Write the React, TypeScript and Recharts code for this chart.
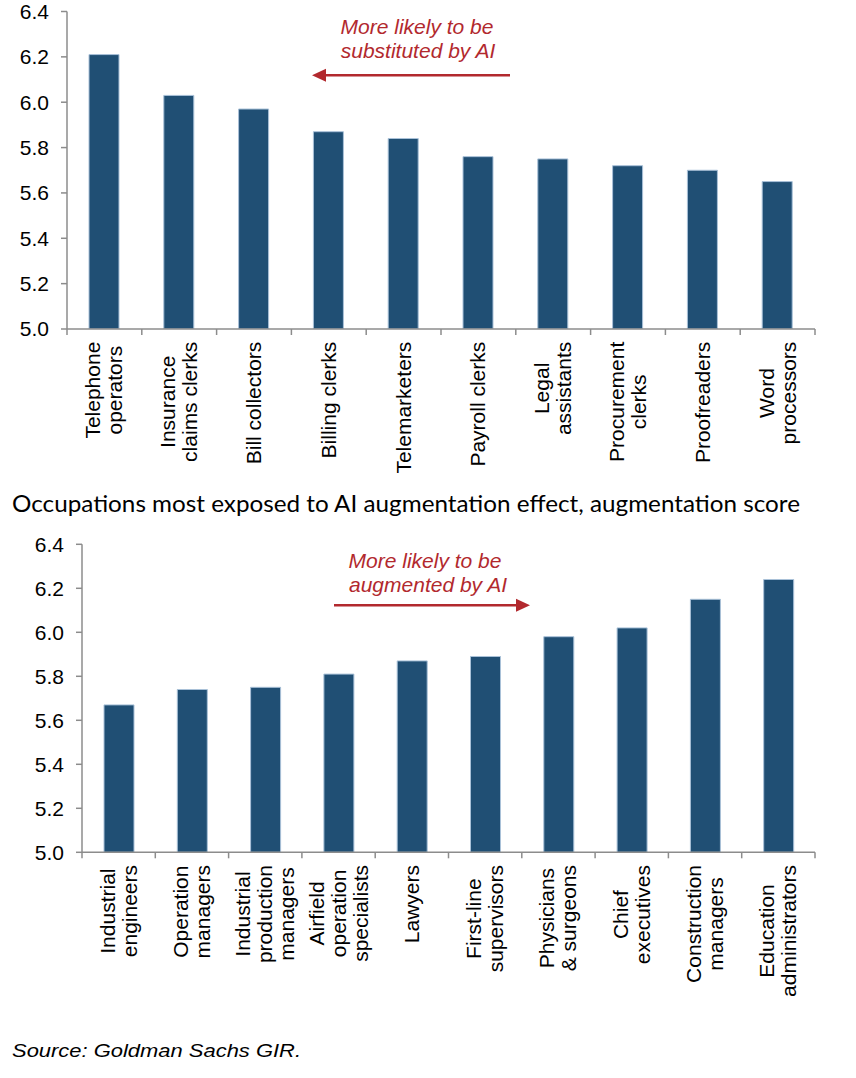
import { Bar, BarChart, XAxis, YAxis } from 'recharts';

// occupation labels, split the way they wrap under the axis
const substitutionLabels = [
  ['Telephone', 'operators'],
  ['Insurance', 'claims clerks'],
  ['Bill collectors'],
  ['Billing clerks'],
  ['Telemarketers'],
  ['Payroll clerks'],
  ['Legal', 'assistants'],
  ['Procurement', 'clerks'],
  ['Proofreaders'],
  ['Word', 'processors'],
];
const substitutionScores = [6.21, 6.03, 5.97, 5.87, 5.84, 5.76, 5.75, 5.72, 5.7, 5.65];

const augmentationLabels = [
  ['Industrial', 'engineers'],
  ['Operation', 'managers'],
  ['Industrial', 'production', 'managers'],
  ['Airfield', 'operation', 'specialists'],
  ['Lawyers'],
  ['First-line', 'supervisors'],
  ['Physicians', '& surgeons'],
  ['Chief', 'executives'],
  ['Construction', 'managers'],
  ['Education', 'administrators'],
];
const augmentationScores = [5.67, 5.74, 5.75, 5.81, 5.87, 5.89, 5.98, 6.02, 6.15, 6.24];

const scoreTicks = [5.0, 5.2, 5.4, 5.6, 5.8, 6.0, 6.2, 6.4];

const BAR = '#204f74';
const BAR_EDGE = '#a9c1d8';
const AXIS = '#8c8c8c';
const RED = '#b2292e';
const SANS = '"Liberation Sans", Arial, sans-serif';
const LABEL_SIZE = 21;
const LINE_GAP = 22;

let measureCtx: CanvasRenderingContext2D | null = null;
const textWidth = (s: string) => {
  if (!measureCtx) measureCtx = document.createElement('canvas').getContext('2d');
  if (!measureCtx) return s.length * LABEL_SIZE * 0.5;
  measureCtx.font = `${LABEL_SIZE}px "Liberation Sans"`;
  return measureCtx.measureText(s).width;
};

const toRows = (labels: string[][], scores: number[]) =>
  labels.map((lines, i) => ({ name: lines.join(' '), value: scores[i] }));

const makeTick = (labels: string[][], band: number, axisY: number) => (props: any) => {
  const { x, index } = props;
  const lines = labels[index] ?? [];
  const longest = Math.max(...lines.map(textWidth));
  const cy = axisY + 12.7 + longest / 2;
  const left = x - band / 2;
  return (
    <g>
      <line x1={left} x2={left} y1={axisY} y2={axisY + 6} stroke={AXIS} strokeWidth={1.5} />
      {index === labels.length - 1 && (
        <line x1={x + band / 2} x2={x + band / 2} y1={axisY} y2={axisY + 6} stroke={AXIS} strokeWidth={1.5} />
      )}
      <text transform={`translate(${x}, ${cy}) rotate(-90)`} textAnchor="middle" fontSize={LABEL_SIZE} fontFamily={SANS} fill="#000">
        {lines.map((line, i) => (
          <tspan key={i} x={0} y={(i - (lines.length - 1) / 2) * LINE_GAP + 7}>
            {line}
          </tspan>
        ))}
      </text>
    </g>
  );
};

type PanelProps = {
  labels: string[][];
  scores: number[];
  top: number;
  plotTop: number;
  plotBottom: number;
  plotLeft: number;
  plotRight: number;
};

const ScorePanel = ({ labels, scores, top, plotTop, plotBottom, plotLeft, plotRight }: PanelProps) => {
  const width = 856;
  const height = 500;
  const band = (plotRight - plotLeft) / labels.length;
  return (
    <div style={{ position: 'absolute', left: 0, top }}>
      <BarChart
        width={width}
        height={height}
        data={toRows(labels, scores)}
        margin={{ top: plotTop, right: width - plotRight, left: 0, bottom: 0 }}
        barCategoryGap={0}
      >
        <YAxis
          type="number"
          domain={[5, 6.4]}
          ticks={scoreTicks}
          interval={0}
          allowDataOverflow
          width={plotLeft}
          tickSize={6}
          tickMargin={12}
          tickFormatter={(v: number) => v.toFixed(1)}
          axisLine={{ stroke: AXIS, strokeWidth: 1.5 }}
          tickLine={{ stroke: AXIS, strokeWidth: 1.5 }}
          tick={{ fill: '#000', fontSize: 21, fontFamily: SANS }}
        />
        <XAxis
          dataKey="name"
          interval={0}
          height={height - plotBottom}
          axisLine={{ stroke: AXIS, strokeWidth: 1.5 }}
          tickLine={false}
          tick={makeTick(labels, band, plotBottom)}
        />
        <Bar dataKey="value" fill={BAR} stroke={BAR_EDGE} strokeWidth={1} barSize={30} isAnimationActive={false} />
      </BarChart>
    </div>
  );
};

const Arrow = ({ from, to, y }: { from: number; to: number; y: number }) => {
  const dir = to > from ? 1 : -1;
  const back = to - dir * 14;
  return (
    <g>
      <line x1={from} x2={back + dir * 2} y1={y} y2={y} stroke={RED} strokeWidth={2.5} />
      <polygon points={`${to},${y} ${back},${y - 6.5} ${back},${y + 6.5}`} fill={RED} />
    </g>
  );
};

export default function App() {
  return (
    <div style={{ position: 'absolute', left: 0, top: 0, width: 856, height: 1078, background: '#fff' }}>
      <ScorePanel labels={substitutionLabels} scores={substitutionScores} top={0} plotTop={11.5} plotBottom={329} plotLeft={67} plotRight={815} />
      <ScorePanel labels={augmentationLabels} scores={augmentationScores} top={530} plotTop={14.3} plotBottom={322.3} plotLeft={82} plotRight={815} />
      <svg width={856} height={1078} style={{ position: 'absolute', left: 0, top: 0, pointerEvents: 'none' }}>
        <g fontFamily={SANS} fontStyle="italic" fontSize={21} fill={RED} textAnchor="middle">
          <text x={417} y={33.5}>More likely to be</text>
          <text x={418} y={57.5}>substituted by AI</text>
          <text x={425} y={568}>More likely to be</text>
          <text x={428} y={592}>augmented by AI</text>
        </g>
        <Arrow from={510} to={312} y={75.3} />
        <Arrow from={334} to={530} y={605.3} />
        <text x={12} y={512} fontFamily="Lato, sans-serif" fontSize={23} fill="#000" textLength={788} lengthAdjust="spacingAndGlyphs">
          Occupations most exposed to AI augmentation effect, augmentation score
        </text>
        <text x={12} y={1056.5} fontFamily={SANS} fontStyle="italic" fontSize={19} fill="#000" textLength={289} lengthAdjust="spacingAndGlyphs">
          Source: Goldman Sachs GIR.
        </text>
      </svg>
    </div>
  );
}
